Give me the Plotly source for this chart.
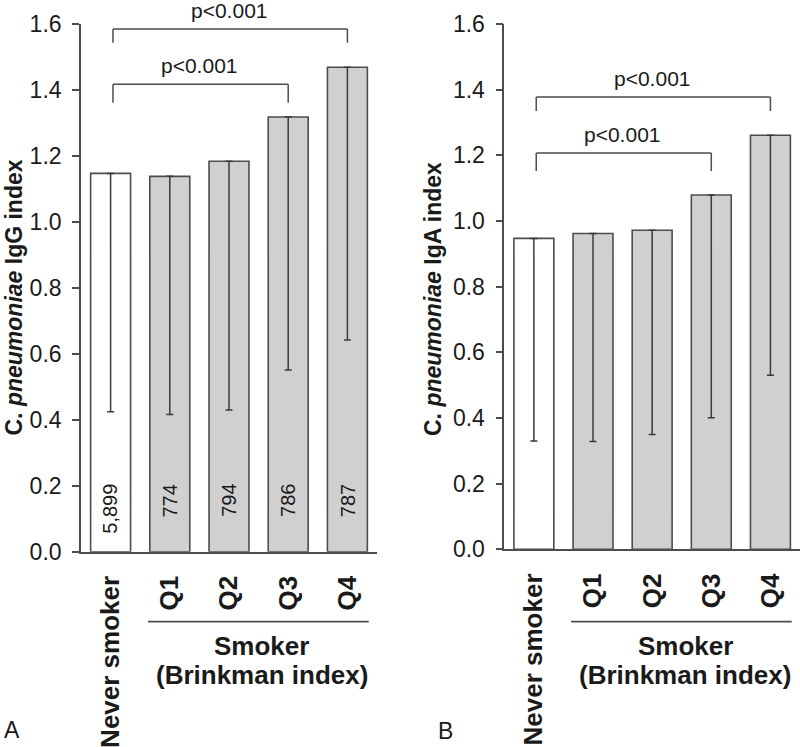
import plotly.graph_objects as go

# ---------------- data ----------------
categories = ["Never smoker", "Q1", "Q2", "Q3", "Q4"]
counts = ["5,899", "774", "794", "786", "787"]

igg_mean = [1.147, 1.138, 1.184, 1.318, 1.469]
igg_lower = [0.424, 0.416, 0.430, 0.551, 0.642]

iga_mean = [0.947, 0.962, 0.972, 1.079, 1.261]
iga_lower = [0.330, 0.328, 0.350, 0.401, 0.530]

# comparisons (index pairs), bracket level, leg bottom, label
igg_pairs = [(0, 3), (0, 4)]
igg_bracket_top = [1.417, 1.585]
igg_bracket_leg = [1.361, 1.543]

iga_pairs = [(0, 3), (0, 4)]
iga_bracket_top = [1.207, 1.378]
iga_bracket_leg = [1.152, 1.335]

p_labels = ["p<0.001", "p<0.001"]

y_ticks = [0.0, 0.2, 0.4, 0.6, 0.8, 1.0, 1.2, 1.4, 1.6]

# ---------------- style ----------------
FONT = "Arial, Liberation Sans, Helvetica, sans-serif"
EDGE = "#4d4d4d"
GREY = "#d0d0d0"
TXT = "#1a1a1a"

fill = ["#ffffff"] + [GREY] * 4
xs = list(range(len(categories)))

fig = go.Figure()


def add_panel(means, lowers, xa, ya):
    fig.add_trace(go.Bar(
        x=xs, y=means, width=0.675,
        marker=dict(color=fill, line=dict(color=EDGE, width=1.6)),
        error_y=dict(type="data", symmetric=False,
                     array=[0] * len(means),
                     arrayminus=[m - l for m, l in zip(means, lowers)],
                     color="#3a3a3a", thickness=1.5, width=3.5),
        xaxis=xa, yaxis=ya, showlegend=False, hoverinfo="skip",
    ))


add_panel(igg_mean, igg_lower, "x", "y")
add_panel(iga_mean, iga_lower, "x2", "y2")

axis_common_y = dict(
    range=[0, 1.6], tickvals=y_ticks, ticktext=[f"{v:.1f}" for v in y_ticks],
    showline=True, linecolor=EDGE, linewidth=1.6,
    ticks="outside", ticklen=7, tickwidth=1.6, tickcolor=EDGE,
    tickfont=dict(family=FONT, size=23, color=TXT),
    showgrid=False, zeroline=False, automargin=False, ticklabelstandoff=6,
)
axis_common_x = dict(
    range=[-0.5, 4.5], tickvals=xs, ticktext=categories, tickangle=-90,
    showline=True, linecolor=EDGE, linewidth=1.6, ticks="",
    tickfont=dict(family=FONT, size=26, color=TXT, weight="bold"),
    showgrid=False, zeroline=False, automargin=False, ticklabelstandoff=12,
)

H = 747.0
fig.update_layout(
    width=800, height=747,
    margin=dict(l=0, r=0, t=0, b=0),
    plot_bgcolor="white", paper_bgcolor="white",
    bargap=0.3,
    xaxis=dict(domain=[81 / 800, 377 / 800], anchor="y", **axis_common_x),
    yaxis=dict(domain=[1 - 551.7 / H, 1 - 24 / H], anchor="x", **axis_common_y),
    xaxis2=dict(domain=[504.3 / 800, 1.0], anchor="y2", **axis_common_x),
    yaxis2=dict(domain=[1 - 549.3 / H, 1 - 24 / H], anchor="x2", **axis_common_y),
)

shapes = []
annotations = []


def brackets(pairs, tops, legs, xr, yr):
    for (a, b), top, leg, lab in zip(pairs, tops, legs, p_labels):
        xa, xb = a + 0.04, b
        for (x0, y0, x1, y1) in [(xa, leg, xa, top), (xa, top, xb, top), (xb, top, xb, leg)]:
            shapes.append(dict(type="line", xref=xr, yref=yr, x0=x0, y0=y0, x1=x1, y1=y1,
                               line=dict(color=EDGE, width=1.5)))
        annotations.append(dict(x=(a + b) / 2, y=top, xref=xr, yref=yr, text=lab,
                                showarrow=False, xanchor="center", yanchor="bottom", yshift=5,
                                font=dict(family=FONT, size=21, color=TXT)))


brackets(igg_pairs, igg_bracket_top, igg_bracket_leg, "x", "y")
brackets(iga_pairs, iga_bracket_top, iga_bracket_leg, "x2", "y2")

# counts inside bars (panel A), top-aligned (rotated text): shift by half its length
CNT_SIZE = 20


def text_len(s, size):
    w = sum(0.278 if ch in ",." else 0.556 for ch in s)
    return w * size


for i, c in enumerate(counts):
    annotations.append(dict(x=i, y=0.205, xref="x", yref="y", text=c, textangle=-90,
                            showarrow=False, xanchor="center", yanchor="middle",
                            yshift=-text_len(c, CNT_SIZE) / 2,
                            font=dict(family=FONT, size=CNT_SIZE, color=TXT)))

# group line + Smoker label
for xr, cx in [("x", 261.7 / 800), ("x2", 685 / 800)]:
    shapes.append(dict(type="line", xref=xr, yref="paper", x0=1 - 0.37, x1=4 + 0.36,
                       y0=1 - 621.7 / H, y1=1 - 621.7 / H,
                       line=dict(color=EDGE, width=1.8)))
    annotations.append(dict(x=cx, y=1 - 646 / H, xref="paper", yref="paper",
                            text="<b>Smoker</b>", showarrow=False,
                            xanchor="center", yanchor="middle",
                            font=dict(family=FONT, size=26, color=TXT)))
    annotations.append(dict(x=cx, y=1 - 675 / H, xref="paper", yref="paper",
                            text="<b>(Brinkman index)</b>", showarrow=False,
                            xanchor="center", yanchor="middle",
                            font=dict(family=FONT, size=26, color=TXT)))

# y-axis titles
for cx, cy, ig in [(13 / 800, 1 - 297.5 / H, "IgG"), (433 / 800, 1 - 299 / H, "IgA")]:
    annotations.append(dict(x=cx, y=cy, xref="paper", yref="paper", textangle=-90,
                            text=f"<b>C. <i>pneumoniae</i> {ig} index</b>", showarrow=False,
                            xanchor="center", yanchor="middle",
                            font=dict(family=FONT, size=23, color=TXT)))

# panel letters
annotations.append(dict(x=12 / 800, y=1 - 730 / H, xref="paper", yref="paper", text="A",
                        showarrow=False, xanchor="center", yanchor="middle",
                        font=dict(family=FONT, size=23, color=TXT)))
annotations.append(dict(x=445 / 800, y=1 - 731 / H, xref="paper", yref="paper", text="B",
                        showarrow=False, xanchor="center", yanchor="middle",
                        font=dict(family=FONT, size=23, color=TXT)))

fig.update_layout(shapes=shapes, annotations=annotations)
fig.write_html("out.html", config={"displayModeBar": False},
               post_script="document.body.style.margin='0';document.body.style.overflow='hidden';")
